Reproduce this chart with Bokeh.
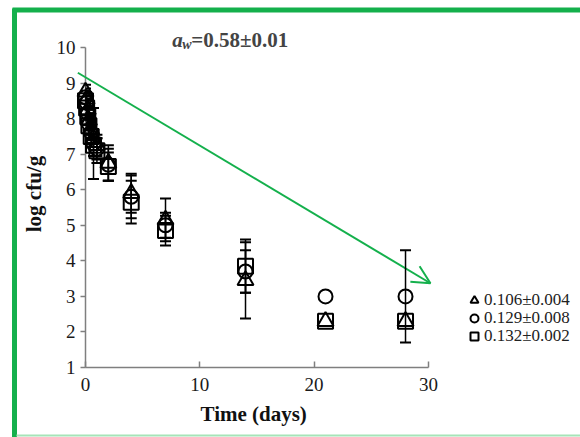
from bokeh.plotting import figure
from bokeh.models import (Arrow, OpenHead, Whisker, TeeHead, ColumnDataSource, Legend,
                          LegendItem, FixedTicker, Label, Range1d, Title)
from bokeh.embed import file_html
from bokeh.resources import INLINE

# ---- data ----
days = [0, 0.1, 0.2, 0.3, 0.5, 0.7, 1, 2, 4, 7, 14, 21, 28]
tri_vals = [8.75, 8.55, 8.25, 7.95, 7.7, 7.45, 7.25, 6.75, 5.9, 5.15, 3.45, 2.3, 2.3]
cir_vals = [8.6, 8.45, 8.15, 7.85, 7.6, 7.3, 7.15, 6.7, 5.8, 5.0, 3.7, 3.0, 3.0]
sq_vals = [8.5, 8.3, 8.05, 7.8, 7.5, 7.25, 7.1, 6.65, 5.65, 4.85, 3.85, 2.3, 2.3]
tri_err = [0.2, 0.2, 0.25, 0.2, 0.3, 0.25, 0.3, 0.5, 0.55, 0.6, 1.07, 0, 0]
cir_err = [0.25, 0.2, 0.2, 0.3, 0.3, 1.0, 0.3, 0.45, 0.6, 0.35, 0.6, 0, 1.3]
sq_err = [0.2, 0.25, 0.2, 0.25, 0.3, 0.3, 0.35, 0.4, 0.6, 0.42, 0.75, 0, 0]
series_labels = ["0.106\u00b10.004", "0.129\u00b10.008", "0.132\u00b10.002"]
x_ticks = [0, 10, 20, 30]
y_ticks = [1, 2, 3, 4, 5, 6, 7, 8, 9, 10]
trend_start = (-0.67, 9.29)
trend_end = (30.18, 3.37)

SERIF = "Liberation Serif"
GREEN = "#14b04c"

p = figure(width=580, height=437, output_backend="svg", toolbar_location=None, title=None,
           x_range=Range1d(0, 43.31), y_range=Range1d(1, 10.76),
           min_border_left=85, min_border_right=0, min_border_top=20, min_border_bottom=70)
p.grid.visible = False
p.outline_line_color = None
p.background_fill_color = "white"
p.border_fill_color = "white"

# axes
for ax in (p.xaxis[0], p.yaxis[0]):
    ax.axis_line_color = "#7f7f7f"
    ax.axis_line_width = 1.5
    ax.major_tick_line_color = "#7f7f7f"
    ax.major_tick_line_width = 1.5
    ax.minor_tick_line_color = None
    ax.major_label_text_font = SERIF
    ax.major_label_text_font_size = "19px"
    ax.major_label_text_color = "#1a1a1a"
    ax.axis_label_text_font = SERIF
    ax.axis_label_text_font_size = "21px"
    ax.axis_label_text_font_style = "bold"
    ax.axis_label_text_color = "#111111"

p.xaxis.ticker = FixedTicker(ticks=x_ticks)
p.xaxis.bounds = (0, 30)
p.xaxis.major_tick_in = 6
p.xaxis.major_tick_out = 0
p.xaxis.major_label_standoff = 10

# x-axis title, centred under the 0-30 span of the axis
p.add_layout(Title(text="Time (days)", align="left", offset=115, standoff=12,
                   vertical_align="bottom",
                   text_font=SERIF, text_font_size="21px", text_font_style="bold",
                   text_color="#111111"), "below")

p.yaxis.ticker = FixedTicker(ticks=y_ticks)
p.yaxis.bounds = (1, 10)
p.yaxis.major_tick_in = 0
p.yaxis.major_tick_out = 5
p.yaxis.major_label_standoff = 5
p.yaxis.axis_label = "log cfu/g"
p.yaxis.axis_label_standoff = 8

# error bars
def add_err(vals, errs):
    xs = [d for d, e in zip(days, errs) if e > 0]
    up = [v + e for v, e in zip(vals, errs) if e > 0]
    lo = [v - e for v, e in zip(vals, errs) if e > 0]
    src = ColumnDataSource(dict(x=xs, up=up, lo=lo))
    w = Whisker(source=src, base="x", upper="up", lower="lo", dimension="height",
                line_color="black", line_width=1.5, level="overlay",
                upper_head=TeeHead(size=11, line_color="black", line_width=2),
                lower_head=TeeHead(size=11, line_color="black", line_width=2))
    p.add_layout(w)

add_err(tri_vals, tri_err)
add_err(cir_vals, cir_err)
add_err(sq_vals, sq_err)

# markers
r_tri = p.scatter(days, tri_vals, marker="triangle", size=16, fill_alpha=0,
                  line_color="black", line_width=2, level="overlay")
r_cir = p.scatter(days, cir_vals, marker="circle", size=14, fill_alpha=0,
                  line_color="black", line_width=2, level="overlay")
r_sq = p.scatter(days, sq_vals, marker="square", size=15, fill_alpha=0,
                 line_color="black", line_width=2, level="overlay")

# trend arrow: shaft as a segment (not clipped), open head as an Arrow
p.segment([trend_start[0]], [trend_start[1]], [trend_end[0]], [trend_end[1]],
          line_color=GREEN, line_width=2, level="overlay")
p.add_layout(Arrow(end=OpenHead(size=18, line_color=GREEN, line_width=2),
                   x_start=trend_start[0], y_start=trend_start[1],
                   x_end=trend_end[0], y_end=trend_end[1],
                   line_alpha=0, level="overlay"))

# legend: one small legend per series, stacked
for i, (lab, r) in enumerate(zip(series_labels, [r_tri, r_cir, r_sq])):
    lg = Legend(items=[LegendItem(label=lab, renderers=[r])],
                location=(379, 57 - 18 * i), glyph_width=20, glyph_height=20,
                label_standoff=0, padding=0, margin=0, border_line_color=None,
                background_fill_alpha=0, label_text_font=SERIF,
                label_text_font_size="17px", label_text_color="#222222")
    p.add_layout(lg)

# title (a_w = 0.58 +/- 0.01)
tx, ty = 7.6, 10.2
p.add_layout(Label(x=tx, y=ty, text="a", text_font=SERIF, text_font_size="21px",
                   text_font_style="bold italic", text_baseline="alphabetic"))
p.add_layout(Label(x=tx, y=ty, x_offset=10, y_offset=-4, text="w", text_font=SERIF,
                   text_font_size="14px", text_font_style="bold italic",
                   text_baseline="alphabetic"))
p.add_layout(Label(x=tx, y=ty, x_offset=19, text="=0.58\u00b10.01", text_font=SERIF,
                   text_font_size="21px", text_font_style="bold",
                   text_baseline="alphabetic"))

# green page frame (decoration)
def px_x(px):
    return (px - 85) / 11.43

def px_y(py):
    return 1 + (367 - py) / 35.56

p.segment([px_x(12), px_x(14)], [px_y(9.5), px_y(8)], [px_x(582), px_x(14)],
          [px_y(9.5), px_y(440)], line_color=GREEN, line_width=5, level="overlay")
p.segment([px_x(16)], [px_y(435)], [px_x(582)], [px_y(435)],
          line_color="#a6e4b8", line_width=2, level="overlay")

open("out.html", "w").write(file_html(p, INLINE))
